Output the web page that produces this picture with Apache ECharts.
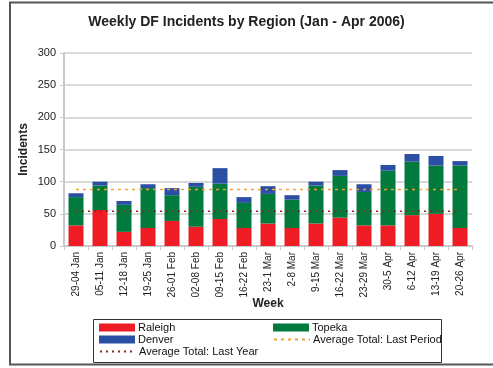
<!DOCTYPE html>
<html>
<head>
<meta charset="utf-8">
<script src="https://cdn.jsdelivr.net/npm/echarts@6/dist/echarts.min.js"></script>
<style>
  html, body { margin: 0; padding: 0; background: #fff; }
  #chart { width: 493px; height: 368px; }
</style>
</head>
<body>
<div id="chart"></div>
<script>
// weeks Jan - Apr 2006
const weeks = ['29-04 Jan', '05-11 Jan', '12-18 Jan', '19-25 Jan', '26-01 Feb', '02-08 Feb',
  '09-15 Feb', '16-22 Feb', '23-1 Mar', '2-8 Mar', '9-15 Mar', '16-22 Mar', '23-29 Mar',
  '30-5 Apr', '6-12 Apr', '13-19 Apr', '20-26 Apr']
const raleigh = [32, 56, 22, 28, 39, 30, 42, 28, 35, 28, 35, 44, 32, 32, 48, 50, 28]
const topeka = [44, 38, 42, 62, 40, 62, 55, 39, 46, 44, 59, 65, 52, 85, 83, 75, 97]
const denver = [6, 6, 6, 6, 11, 6, 24, 9, 12, 7, 6, 9, 12, 9, 12, 15, 7]
const avgLastPeriod = 88
const avgLastYear = 54
const yTicks = { min: 0, max: 300, interval: 50 }

const font = 'Liberation Sans, Arial, sans-serif'
const chart = echarts.init(document.getElementById('chart'))

// one legend per item so they can sit in the 2-column box
function legendItem(name, left, top, isLine) {
  return {
    data: [isLine ? { name: name, itemStyle: { opacity: 0 } } : { name: name, icon: 'rect' }],
    left: left,
    top: top,
    padding: 0,
    itemWidth: 36,
    itemHeight: 8,
    itemGap: 0,
    textStyle: { fontFamily: font, fontSize: 11, color: '#111', padding: [0, 0, 0, -2] },
    selectedMode: false
  }
}

chart.setOption({
  animation: false,
  title: {
    text: 'Weekly DF Incidents by Region (Jan - Apr 2006)',
    left: 'center',
    top: 10,
    textStyle: { fontFamily: font, fontSize: 14, fontWeight: 'bold', color: '#222' }
  },
  graphic: [
    {
      type: 'rect',
      shape: { x: 10, y: 2.5, width: 500, height: 362 },
      style: { fill: 'none', stroke: '#555', lineWidth: 2 }
    },
    {
      type: 'rect',
      shape: { x: 93.5, y: 319.5, width: 348, height: 43 },
      style: { fill: 'none', stroke: '#333', lineWidth: 1 }
    }
  ],
  legend: [
    legendItem('Raleigh', 99, 322),
    legendItem('Denver', 99, 334),
    legendItem('Average Total: Last Year', 99, 346, true),
    legendItem('Topeka', 273, 322),
    legendItem('Average Total: Last Period', 273, 334, true)
  ],
  grid: { left: 64, right: 21, top: 53, bottom: 122 },
  xAxis: {
    type: 'category',
    data: weeks,
    name: 'Week',
    nameLocation: 'middle',
    nameGap: 52,
    nameMoveOverlap: false,
    nameTextStyle: { fontFamily: font, fontSize: 12, fontWeight: 'bold', color: '#222' },
    axisLine: { lineStyle: { color: '#c8c8c8', width: 2 } },
    axisTick: { show: true, length: 4, lineStyle: { color: '#c8c8c8' } },
    axisLabel: { rotate: 90, interval: 0, fontFamily: font, fontSize: 10, color: '#222', margin: 6 }
  },
  yAxis: {
    type: 'value',
    min: yTicks.min,
    max: yTicks.max,
    interval: yTicks.interval,
    name: 'Incidents',
    nameLocation: 'middle',
    nameGap: 34,
    nameMoveOverlap: false,
    nameTextStyle: { fontFamily: font, fontSize: 12, fontWeight: 'bold', color: '#222' },
    axisLine: { show: true, lineStyle: { color: '#c8c8c8', width: 2 } },
    axisTick: { show: true, length: 4, lineStyle: { color: '#c8c8c8' } },
    axisLabel: { fontFamily: font, fontSize: 11, color: '#222', margin: 8 },
    splitLine: { lineStyle: { color: '#dadada', width: 2 } }
  },
  series: [
    {
      name: 'Raleigh', type: 'bar', stack: 'total', data: raleigh, barWidth: 15,
      itemStyle: { color: '#ee1c25' }
    },
    {
      name: 'Topeka', type: 'bar', stack: 'total', data: topeka,
      itemStyle: { color: '#007a3d' }
    },
    {
      name: 'Denver', type: 'bar', stack: 'total', data: denver,
      itemStyle: { color: '#2b4fa3' }
    },
    {
      name: 'Average Total: Last Period', type: 'line', symbol: 'none',
      data: weeks.map(() => avgLastPeriod),
      lineStyle: { color: '#f0a030', width: 1.5, type: [3, 4] },
      itemStyle: { color: '#f0a030' }, z: 5
    },
    {
      name: 'Average Total: Last Year', type: 'line', symbol: 'none',
      data: weeks.map(() => avgLastYear),
      lineStyle: { color: '#8b2a1a', width: 1.5, type: [2, 4] },
      itemStyle: { color: '#8b2a1a' }, z: 5
    }
  ]
})
</script>
</body>
</html>
